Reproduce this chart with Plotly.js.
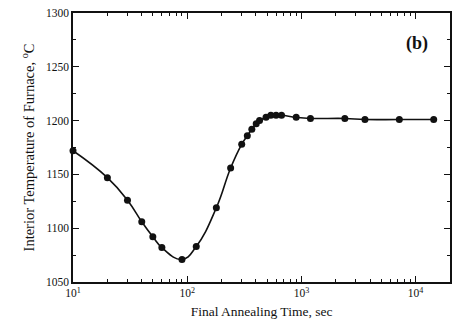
<!DOCTYPE html>
<html>
<head>
<meta charset="utf-8">
<script src="https://cdn.plot.ly/plotly-3.0.1.min.js"></script>
<style>html,body{margin:0;padding:0;background:#fff;}#chart{width:453px;height:326px;}</style>
</head>
<body>
<div id="chart"></div>
<script>
// Final annealing time (sec) and interior furnace temperature (°C)
const timeSec = [10, 20, 30, 40, 50, 60, 90, 120, 180, 240, 300, 336, 368, 402, 430, 490, 540, 600, 670, 900, 1200, 2400, 3600, 7200, 14400];
const tempC   = [1172, 1147, 1126, 1106, 1092, 1082, 1071, 1083, 1119, 1156, 1178, 1186, 1192, 1197, 1200, 1203, 1205, 1205, 1205, 1203, 1202, 1202, 1201, 1201, 1201];
const xTickVals = [10, 100, 1000, 10000];
const xTickText = ['10<sup>1</sup>', '10<sup>2</sup>', '10<sup>3</sup>', '10<sup>4</sup>'];
const yTickVals = [1050, 1100, 1150, 1200, 1250, 1300];

const serif = 'Liberation Serif, Times New Roman, serif';

const traces = [{
  x: timeSec, y: tempC,
  type: 'scatter', mode: 'lines+markers',
  line: {shape: 'spline', smoothing: 1.3, color: '#111', width: 1.6},
  marker: {color: '#111', size: 7},
  cliponaxis: false,
  showlegend: false
}];

const layout = {
  width: 453, height: 326,
  margin: {l: 73, r: 3, t: 13, b: 44},
  paper_bgcolor: '#fff', plot_bgcolor: '#fff',
  font: {family: serif, color: '#111', size: 11},
  showlegend: false,
  xaxis: {
    type: 'log', range: [1, Math.log10(20000)],
    tickmode: 'array', tickvals: xTickVals, ticktext: xTickText,
    ticks: 'inside', ticklen: 6, tickwidth: 1.2, tickcolor: '#111',
    minor: {ticks: 'inside', ticklen: 3, dtick: 'D1', tickcolor: '#111', tickwidth: 1},
    showline: true, linecolor: '#111', linewidth: 1.6, mirror: 'ticks',
    showgrid: false, zeroline: false,
    tickfont: {family: serif, size: 11.5, color: '#111'},
    title: {text: 'Final Annealing Time, sec', font: {family: serif, size: 13.5, color: '#111'}, standoff: 8}
  },
  yaxis: {
    range: [1050, 1300],
    tickmode: 'array', tickvals: yTickVals,
    ticks: 'inside', ticklen: 6, tickwidth: 1.2, tickcolor: '#111',
    minor: {ticks: 'inside', ticklen: 3, dtick: 25, tickcolor: '#111', tickwidth: 1},
    showline: true, linecolor: '#111', linewidth: 1.6, mirror: 'ticks',
    showgrid: false, zeroline: false,
    tickfont: {family: serif, size: 11.5, color: '#111'},
    title: {text: 'Interior Temperature of Furnace, <sup>o</sup>C', font: {family: serif, size: 14.5, color: '#111'}, standoff: 8}
  },
  annotations: [{
    text: '<b>(b)</b>', xref: 'paper', yref: 'paper', x: 0.912, y: 0.888,
    xanchor: 'center', yanchor: 'middle',
    showarrow: false, font: {family: serif, size: 18, color: '#111'}
  }]
};

Plotly.newPlot('chart', traces, layout, {staticPlot: true, displayModeBar: false});
</script>
</body>
</html>
